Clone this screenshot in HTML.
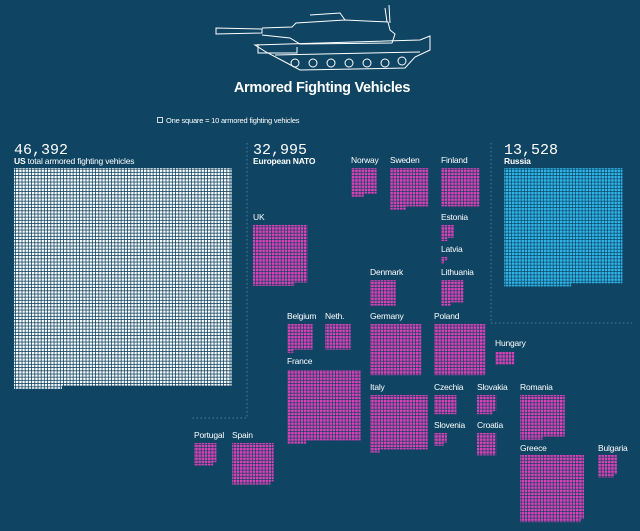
<!DOCTYPE html>
<html><head><meta charset="utf-8"><style>
html,body{margin:0;padding:0;background:#0f4462;}
svg{display:block}
.l{font-family:"Liberation Sans",sans-serif;font-size:8.5px;fill:#fff;letter-spacing:-0.2px}
.n{font-family:"Liberation Mono",monospace;font-size:15px;fill:#fff}
.b{font-weight:bold}
</style></head><body>
<svg width="640" height="531" viewBox="0 0 640 531" xmlns="http://www.w3.org/2000/svg">
<defs>
<pattern id="w" width="3.2" height="3.2" patternUnits="userSpaceOnUse"><rect width="2.4" height="2.4" fill="#ffffff"/></pattern>
<pattern id="m" width="3.2" height="3.2" patternUnits="userSpaceOnUse"><rect width="2.5" height="2.5" fill="#e040b8"/></pattern>
<pattern id="c" width="3.2" height="3.2" patternUnits="userSpaceOnUse"><rect width="2.5" height="2.5" fill="#2fb6ec"/></pattern>
</defs>
<rect width="640" height="531" fill="#0f4462"/>
<!-- tank -->
<g fill="none" stroke="#fff" stroke-width="1">
<path d="M258 44 L258 53 L297 53 L297 47"/>
<path d="M216 28 L216 34 L262 33 L262 29 Z"/>
<path d="M262 28 L292 27 L296 23 L345 20 L388 22 L390 30 L395 34 L392 43 L300 44 L290 38 L262 35"/>
<path d="M310 15 L340 13 L345 20"/>
<path d="M385 8 L387 22 M389 5 L390 23"/>
<path d="M255 45 L420 40 L430 36 L430 50 L415 57 L405 68 L300 70 L285 62 L266 52 Z"/>
<path d="M275 55 L420 52"/>
<circle cx="295" cy="63" r="4"/><circle cx="313" cy="63" r="4"/><circle cx="331" cy="63" r="4"/><circle cx="349" cy="63" r="4"/><circle cx="367" cy="63" r="4"/><circle cx="385" cy="63" r="4"/><circle cx="402" cy="61" r="4"/>
</g>
<text x="322" y="92" text-anchor="middle" font-family="Liberation Sans,sans-serif" font-size="14.5" font-weight="bold" fill="#fff" letter-spacing="-0.3">Armored Fighting Vehicles</text>
<rect x="157.5" y="117.5" width="5" height="5" fill="none" stroke="#fff" stroke-width="0.8"/>
<text x="166" y="123" class="l" style="font-size:7.5px">One square = 10 armored fighting vehicles</text>
<!-- dotted lines -->
<g stroke="#4a7f9c" stroke-width="1" stroke-dasharray="1.5,2.5" fill="none">
<path d="M247 143 L247 418 L192 418"/>
<path d="M491 143 L491 323 L632 323"/>
</g>
<!-- headers -->
<text x="14" y="154" class="n">46,392</text>
<text x="14" y="164" class="l"><tspan class="b">US</tspan> total armored fighting vehicles</text>
<text x="253" y="154" class="n">32,995</text>
<text x="253" y="164" class="l b">European NATO</text>
<text x="504" y="154" class="n">13,528</text>
<text x="504" y="164" class="l b">Russia</text>
<!-- US -->
<rect x="14" y="168" width="217.6" height="217.6" fill="url(#w)"/>
<rect x="14" y="385.6" width="48" height="3.2" fill="url(#w)"/>
<!-- Russia -->
<rect x="504" y="168" width="118.4" height="115.2" fill="url(#c)"/>
<rect x="504" y="283.2" width="67.2" height="3.2" fill="url(#c)"/>
<!-- Europe -->
<g fill="url(#m)">
<rect x="351" y="168" width="25.6" height="25.6"/><rect x="351" y="193.6" width="12.8" height="3.2"/>
<rect x="390" y="168" width="38.4" height="38.4"/><rect x="390" y="206.4" width="16" height="3.2"/>
<rect x="441" y="168" width="38.4" height="38.4"/>
<rect x="253" y="225" width="54.4" height="57.6"/><rect x="253" y="282.6" width="41.6" height="3.2"/>
<rect x="441" y="225" width="12.8" height="12.8"/><rect x="441" y="237.8" width="6.4" height="3.2"/>
<rect x="441" y="257" width="6.4" height="3.2"/><rect x="441" y="260.2" width="3.2" height="3.2"/>
<rect x="370" y="280" width="25.6" height="25.6"/>
<rect x="441" y="280" width="22.4" height="22.4"/><rect x="441" y="302.4" width="9.6" height="3.2"/>
<rect x="287" y="324" width="25.6" height="25.6"/><rect x="287" y="349.6" width="6.4" height="3.2"/>
<rect x="325" y="324" width="25.6" height="25.6"/>
<rect x="370" y="324" width="51.2" height="51.2"/>
<rect x="434" y="324" width="51.2" height="51.2"/>
<rect x="495" y="352" width="19.2" height="12.8"/>
<rect x="287" y="370" width="73.6" height="70.4"/><rect x="287" y="440.4" width="19.2" height="3.2"/>
<rect x="370" y="395" width="57.6" height="54.4"/><rect x="370" y="449.4" width="9.6" height="3.2"/>
<rect x="434" y="395" width="22.4" height="19.2"/>
<rect x="477" y="395" width="19.2" height="16"/><rect x="477" y="411" width="16" height="3.2"/>
<rect x="434" y="433" width="12.8" height="9.6"/><rect x="434" y="442.6" width="9.6" height="3.2"/>
<rect x="477" y="433" width="19.2" height="22.4"/>
<rect x="520" y="395" width="44.8" height="41.6"/><rect x="520" y="436.6" width="22.4" height="3.2"/>
<rect x="194" y="443" width="22.4" height="19.2"/><rect x="194" y="462.2" width="19.2" height="3.2"/>
<rect x="232" y="443" width="41.6" height="38.4"/><rect x="232" y="481.4" width="38.4" height="3.2"/>
<rect x="520" y="455" width="64" height="64"/><rect x="520" y="519" width="60.8" height="3.2"/>
<rect x="598" y="455" width="19.2" height="19.2"/><rect x="598" y="474.2" width="16" height="3.2"/>
</g>
<g class="l">
<text x="351" y="163">Norway</text>
<text x="390" y="163">Sweden</text>
<text x="441" y="163">Finland</text>
<text x="253" y="220">UK</text>
<text x="441" y="220">Estonia</text>
<text x="441" y="252">Latvia</text>
<text x="370" y="275">Denmark</text>
<text x="441" y="275">Lithuania</text>
<text x="287" y="319">Belgium</text>
<text x="325" y="319">Neth.</text>
<text x="370" y="319">Germany</text>
<text x="434" y="319">Poland</text>
<text x="495" y="346">Hungary</text>
<text x="287" y="364">France</text>
<text x="370" y="390">Italy</text>
<text x="434" y="390">Czechia</text>
<text x="477" y="390">Slovakia</text>
<text x="520" y="390">Romania</text>
<text x="434" y="428">Slovenia</text>
<text x="477" y="428">Croatia</text>
<text x="194" y="438">Portugal</text>
<text x="232" y="438">Spain</text>
<text x="520" y="451">Greece</text>
<text x="598" y="451">Bulgaria</text>
</g>
</svg>
</body></html>
